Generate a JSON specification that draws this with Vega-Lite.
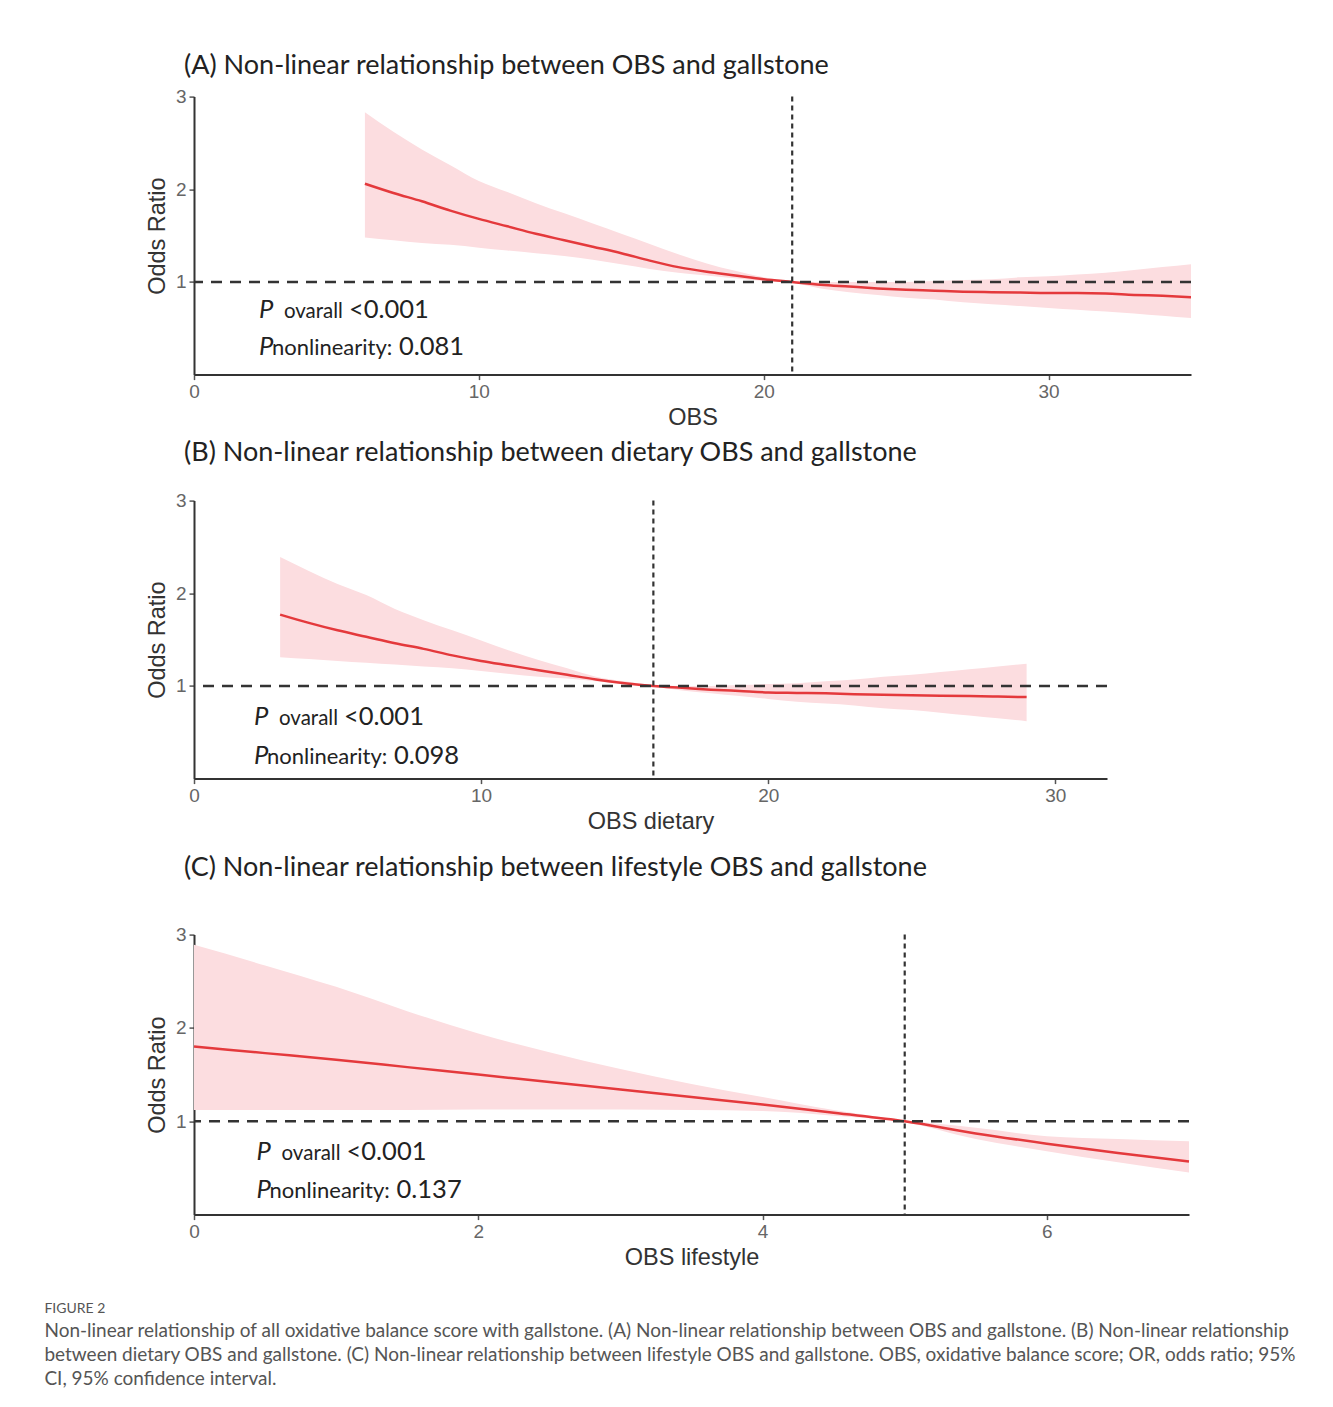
{
  "$schema": "https://vega.github.io/schema/vega-lite/v6.json",
  "background": "white",
  "padding": {"left": 44, "top": 51.6, "right": 5, "bottom": 20},
  "spacing": 9,
  "datasets": {
    "A": [
      {"x": 6, "or": 2.06, "lo": 1.48, "hi": 2.83},
      {"x": 7, "or": 1.96, "lo": 1.45, "hi": 2.62},
      {"x": 8, "or": 1.87, "lo": 1.42, "hi": 2.43},
      {"x": 9, "or": 1.77, "lo": 1.40, "hi": 2.26},
      {"x": 10, "or": 1.68, "lo": 1.37, "hi": 2.09},
      {"x": 11, "or": 1.60, "lo": 1.34, "hi": 1.97},
      {"x": 12, "or": 1.52, "lo": 1.31, "hi": 1.85},
      {"x": 13, "or": 1.45, "lo": 1.28, "hi": 1.74},
      {"x": 14, "or": 1.38, "lo": 1.24, "hi": 1.63},
      {"x": 15, "or": 1.31, "lo": 1.19, "hi": 1.52},
      {"x": 16, "or": 1.23, "lo": 1.14, "hi": 1.41},
      {"x": 17, "or": 1.16, "lo": 1.10, "hi": 1.30},
      {"x": 18, "or": 1.11, "lo": 1.07, "hi": 1.20},
      {"x": 19, "or": 1.07, "lo": 1.04, "hi": 1.12},
      {"x": 20, "or": 1.03, "lo": 1.01, "hi": 1.05},
      {"x": 21, "or": 1.00, "lo": 0.99, "hi": 1.01},
      {"x": 22, "or": 0.97, "lo": 0.93, "hi": 1.00},
      {"x": 23, "or": 0.95, "lo": 0.89, "hi": 1.00},
      {"x": 24, "or": 0.93, "lo": 0.86, "hi": 1.00},
      {"x": 25, "or": 0.915, "lo": 0.83, "hi": 1.00},
      {"x": 26, "or": 0.905, "lo": 0.81, "hi": 1.01},
      {"x": 27, "or": 0.895, "lo": 0.78, "hi": 1.02},
      {"x": 28, "or": 0.89, "lo": 0.76, "hi": 1.03},
      {"x": 29, "or": 0.885, "lo": 0.74, "hi": 1.05},
      {"x": 30, "or": 0.88, "lo": 0.72, "hi": 1.06},
      {"x": 31, "or": 0.88, "lo": 0.70, "hi": 1.08},
      {"x": 32, "or": 0.875, "lo": 0.68, "hi": 1.10},
      {"x": 33, "or": 0.86, "lo": 0.66, "hi": 1.13},
      {"x": 34, "or": 0.85, "lo": 0.635, "hi": 1.16},
      {"x": 35, "or": 0.835, "lo": 0.61, "hi": 1.19}
    ],
    "B": [
      {"x": 3, "or": 1.77, "lo": 1.31, "hi": 2.39},
      {"x": 4, "or": 1.68, "lo": 1.29, "hi": 2.24},
      {"x": 5, "or": 1.60, "lo": 1.27, "hi": 2.10},
      {"x": 6, "or": 1.53, "lo": 1.25, "hi": 1.98},
      {"x": 7, "or": 1.46, "lo": 1.23, "hi": 1.83},
      {"x": 8, "or": 1.40, "lo": 1.21, "hi": 1.71},
      {"x": 9, "or": 1.33, "lo": 1.19, "hi": 1.60},
      {"x": 10, "or": 1.27, "lo": 1.16, "hi": 1.49},
      {"x": 11, "or": 1.22, "lo": 1.13, "hi": 1.38},
      {"x": 12, "or": 1.17, "lo": 1.10, "hi": 1.28},
      {"x": 13, "or": 1.12, "lo": 1.08, "hi": 1.19},
      {"x": 14, "or": 1.07, "lo": 1.05, "hi": 1.10},
      {"x": 15, "or": 1.03, "lo": 1.02, "hi": 1.05},
      {"x": 16, "or": 1.00, "lo": 0.99, "hi": 1.01},
      {"x": 17, "or": 0.98, "lo": 0.95, "hi": 1.00},
      {"x": 18, "or": 0.96, "lo": 0.92, "hi": 1.00},
      {"x": 19, "or": 0.945, "lo": 0.89, "hi": 1.01},
      {"x": 20, "or": 0.93, "lo": 0.86, "hi": 1.02},
      {"x": 21, "or": 0.925, "lo": 0.83, "hi": 1.03},
      {"x": 22, "or": 0.92, "lo": 0.81, "hi": 1.05},
      {"x": 23, "or": 0.91, "lo": 0.79, "hi": 1.07},
      {"x": 24, "or": 0.905, "lo": 0.76, "hi": 1.10},
      {"x": 25, "or": 0.90, "lo": 0.74, "hi": 1.12},
      {"x": 26, "or": 0.895, "lo": 0.71, "hi": 1.15},
      {"x": 27, "or": 0.89, "lo": 0.68, "hi": 1.18},
      {"x": 28, "or": 0.885, "lo": 0.65, "hi": 1.21},
      {"x": 29, "or": 0.88, "lo": 0.62, "hi": 1.24}
    ],
    "C": [
      {"x": 0, "or": 1.80, "lo": 1.12, "hi": 2.89},
      {"x": 0.5, "or": 1.73, "lo": 1.12, "hi": 2.67},
      {"x": 1, "or": 1.66, "lo": 1.12, "hi": 2.44},
      {"x": 1.5, "or": 1.58, "lo": 1.12, "hi": 2.18},
      {"x": 2, "or": 1.50, "lo": 1.125, "hi": 1.94},
      {"x": 2.5, "or": 1.42, "lo": 1.125, "hi": 1.74},
      {"x": 3, "or": 1.34, "lo": 1.125, "hi": 1.56},
      {"x": 3.5, "or": 1.26, "lo": 1.12, "hi": 1.40},
      {"x": 4, "or": 1.18, "lo": 1.11, "hi": 1.26},
      {"x": 4.5, "or": 1.09, "lo": 1.06, "hi": 1.12},
      {"x": 5, "or": 1.00, "lo": 0.99, "hi": 1.01},
      {"x": 5.5, "or": 0.87, "lo": 0.81, "hi": 0.93},
      {"x": 6, "or": 0.76, "lo": 0.68, "hi": 0.84},
      {"x": 6.5, "or": 0.66, "lo": 0.56, "hi": 0.81},
      {"x": 7, "or": 0.57, "lo": 0.45, "hi": 0.785}
    ]
  },
  "title": {
    "text": "FIGURE 2",
    "subtitle": [
      "Non-linear relationship of all oxidative balance score with gallstone. (A) Non-linear relationship between OBS and gallstone. (B) Non-linear relationship",
      "between dietary OBS and gallstone. (C) Non-linear relationship between lifestyle OBS and gallstone. OBS, oxidative balance score; OR, odds ratio; 95%",
      "CI, 95% confidence interval."
    ],
    "orient": "bottom",
    "anchor": "start",
    "frame": "bounds",
    "offset": 32.5,
    "dx": -101,
    "font": "Lato",
    "fontSize": 14,
    "fontWeight": "normal",
    "color": "#555555",
    "subtitleFont": "Lato",
    "subtitleFontSize": 19,
    "subtitleColor": "#555555",
    "subtitleLineHeight": 24,
    "subtitlePadding": 6
  },
  "vconcat": [
    {
      "title": {"text": "(A) Non-linear relationship between OBS and gallstone", "offset": 7.4},
      "width": 997,
      "height": 278,
      "data": {"name": "A"},
      "layer": [
        {
          "mark": {"type": "area", "color": "#fcdde0", "interpolate": "monotone"},
          "encoding": {
            "x": {"field": "x", "type": "quantitative", "scale": {"domain": [0, 35], "nice": false, "zero": false}, "axis": {"title": "OBS", "values": [0, 10, 20, 30], "format": "d"}},
            "y": {"field": "lo", "type": "quantitative", "scale": {"domain": [0, 3], "nice": false}, "axis": {"title": "Odds Ratio", "values": [1, 2, 3], "format": "d"}},
            "y2": {"field": "hi"}
          }
        },
        {
          "mark": {"type": "line", "color": "#e4393c", "strokeWidth": 2.5, "interpolate": "monotone"},
          "encoding": {
            "x": {"field": "x", "type": "quantitative"},
            "y": {"field": "or", "type": "quantitative"}
          }
        },
        {
          "data": {"values": [{}]},
          "mark": {"type": "rule", "color": "#333333", "strokeWidth": 2.5, "strokeDash": [11, 8]},
          "encoding": {"y": {"datum": 1}}
        },
        {
          "data": {"values": [{}]},
          "mark": {"type": "rule", "color": "#333333", "strokeWidth": 2.2, "strokeDash": [5, 4]},
          "encoding": {"x": {"datum": 21}}
        },
        {
          "data": {"values": [{}]},
          "mark": {"type": "text", "text": "P", "font": "Lato", "fontStyle": "italic", "fontSize": 25.5, "color": "#222222", "align": "left", "baseline": "alphabetic"},
          "encoding": {"x": {"datum": 2.28}, "y": {"datum": 0.613}}
        },
        {
          "data": {"values": [{}]},
          "mark": {"type": "text", "text": "ovarall", "font": "Lato", "fontSize": 20.5, "color": "#222222", "align": "left", "baseline": "alphabetic", "dx": 25},
          "encoding": {"x": {"datum": 2.28}, "y": {"datum": 0.613}}
        },
        {
          "data": {"values": [{}]},
          "mark": {"type": "text", "text": "<0.001", "font": "Lato", "fontSize": 25.5, "color": "#222222", "align": "left", "baseline": "alphabetic", "dx": 90},
          "encoding": {"x": {"datum": 2.28}, "y": {"datum": 0.613}}
        },
        {
          "data": {"values": [{}]},
          "mark": {"type": "text", "text": "P", "font": "Lato", "fontStyle": "italic", "fontSize": 25.5, "color": "#222222", "align": "left", "baseline": "alphabetic"},
          "encoding": {"x": {"datum": 2.28}, "y": {"datum": 0.215}}
        },
        {
          "data": {"values": [{}]},
          "mark": {"type": "text", "text": "nonlinearity:", "font": "Lato", "fontSize": 22, "color": "#222222", "align": "left", "baseline": "alphabetic", "dx": 13},
          "encoding": {"x": {"datum": 2.28}, "y": {"datum": 0.215}}
        },
        {
          "data": {"values": [{}]},
          "mark": {"type": "text", "text": "0.081", "font": "Lato", "fontSize": 25.5, "color": "#222222", "align": "left", "baseline": "alphabetic", "dx": 140},
          "encoding": {"x": {"datum": 2.28}, "y": {"datum": 0.215}}
        }
      ]
    },
    {
      "title": {"text": "(B) Non-linear relationship between dietary OBS and gallstone", "offset": 24.5},
      "width": 913,
      "height": 278,
      "data": {"name": "B"},
      "layer": [
        {
          "mark": {"type": "area", "color": "#fcdde0", "interpolate": "monotone"},
          "encoding": {
            "x": {"field": "x", "type": "quantitative", "scale": {"domain": [0, 31.8], "nice": false, "zero": false}, "axis": {"title": "OBS dietary", "values": [0, 10, 20, 30], "format": "d"}},
            "y": {"field": "lo", "type": "quantitative", "scale": {"domain": [0, 3], "nice": false}, "axis": {"title": "Odds Ratio", "values": [1, 2, 3], "format": "d"}},
            "y2": {"field": "hi"}
          }
        },
        {
          "mark": {"type": "line", "color": "#e4393c", "strokeWidth": 2.5, "interpolate": "monotone"},
          "encoding": {
            "x": {"field": "x", "type": "quantitative"},
            "y": {"field": "or", "type": "quantitative"}
          }
        },
        {
          "data": {"values": [{}]},
          "mark": {"type": "rule", "color": "#333333", "strokeWidth": 2.5, "strokeDash": [11, 8]},
          "encoding": {"y": {"datum": 1}}
        },
        {
          "data": {"values": [{}]},
          "mark": {"type": "rule", "color": "#333333", "strokeWidth": 2.2, "strokeDash": [5, 4]},
          "encoding": {"x": {"datum": 16}}
        },
        {
          "data": {"values": [{}]},
          "mark": {"type": "text", "text": "P", "font": "Lato", "fontStyle": "italic", "fontSize": 25.5, "color": "#222222", "align": "left", "baseline": "alphabetic"},
          "encoding": {"x": {"datum": 2.09}, "y": {"datum": 0.58}}
        },
        {
          "data": {"values": [{}]},
          "mark": {"type": "text", "text": "ovarall", "font": "Lato", "fontSize": 20.5, "color": "#222222", "align": "left", "baseline": "alphabetic", "dx": 25},
          "encoding": {"x": {"datum": 2.09}, "y": {"datum": 0.58}}
        },
        {
          "data": {"values": [{}]},
          "mark": {"type": "text", "text": "<0.001", "font": "Lato", "fontSize": 25.5, "color": "#222222", "align": "left", "baseline": "alphabetic", "dx": 90},
          "encoding": {"x": {"datum": 2.09}, "y": {"datum": 0.58}}
        },
        {
          "data": {"values": [{}]},
          "mark": {"type": "text", "text": "P", "font": "Lato", "fontStyle": "italic", "fontSize": 25.5, "color": "#222222", "align": "left", "baseline": "alphabetic"},
          "encoding": {"x": {"datum": 2.09}, "y": {"datum": 0.16}}
        },
        {
          "data": {"values": [{}]},
          "mark": {"type": "text", "text": "nonlinearity:", "font": "Lato", "fontSize": 22, "color": "#222222", "align": "left", "baseline": "alphabetic", "dx": 13},
          "encoding": {"x": {"datum": 2.09}, "y": {"datum": 0.16}}
        },
        {
          "data": {"values": [{}]},
          "mark": {"type": "text", "text": "0.098", "font": "Lato", "fontSize": 25.5, "color": "#222222", "align": "left", "baseline": "alphabetic", "dx": 140},
          "encoding": {"x": {"datum": 2.09}, "y": {"datum": 0.16}}
        }
      ]
    },
    {
      "title": {"text": ["", "(C) Non-linear relationship between lifestyle OBS and gallstone"], "lineHeight": 11, "offset": 43.5},
      "width": 995,
      "height": 280,
      "data": {"name": "C"},
      "layer": [
        {
          "mark": {"type": "area", "color": "#fcdde0", "interpolate": "monotone"},
          "encoding": {
            "x": {"field": "x", "type": "quantitative", "scale": {"domain": [0, 7], "nice": false, "zero": false}, "axis": {"title": "OBS lifestyle", "values": [0, 2, 4, 6], "format": "d"}},
            "y": {"field": "lo", "type": "quantitative", "scale": {"domain": [0, 3], "nice": false}, "axis": {"title": "Odds Ratio", "values": [1, 2, 3], "format": "d"}},
            "y2": {"field": "hi"}
          }
        },
        {
          "mark": {"type": "line", "color": "#e4393c", "strokeWidth": 2.5, "interpolate": "monotone"},
          "encoding": {
            "x": {"field": "x", "type": "quantitative"},
            "y": {"field": "or", "type": "quantitative"}
          }
        },
        {
          "data": {"values": [{}]},
          "mark": {"type": "rule", "color": "#333333", "strokeWidth": 2.5, "strokeDash": [11, 8]},
          "encoding": {"y": {"datum": 1}}
        },
        {
          "data": {"values": [{}]},
          "mark": {"type": "rule", "color": "#333333", "strokeWidth": 2.2, "strokeDash": [5, 4]},
          "encoding": {"x": {"datum": 5}}
        },
        {
          "data": {"values": [{}]},
          "mark": {"type": "text", "text": "P", "font": "Lato", "fontStyle": "italic", "fontSize": 25.5, "color": "#222222", "align": "left", "baseline": "alphabetic"},
          "encoding": {"x": {"datum": 0.44}, "y": {"datum": 0.59}}
        },
        {
          "data": {"values": [{}]},
          "mark": {"type": "text", "text": "ovarall", "font": "Lato", "fontSize": 20.5, "color": "#222222", "align": "left", "baseline": "alphabetic", "dx": 25},
          "encoding": {"x": {"datum": 0.44}, "y": {"datum": 0.59}}
        },
        {
          "data": {"values": [{}]},
          "mark": {"type": "text", "text": "<0.001", "font": "Lato", "fontSize": 25.5, "color": "#222222", "align": "left", "baseline": "alphabetic", "dx": 90},
          "encoding": {"x": {"datum": 0.44}, "y": {"datum": 0.59}}
        },
        {
          "data": {"values": [{}]},
          "mark": {"type": "text", "text": "P", "font": "Lato", "fontStyle": "italic", "fontSize": 25.5, "color": "#222222", "align": "left", "baseline": "alphabetic"},
          "encoding": {"x": {"datum": 0.44}, "y": {"datum": 0.18}}
        },
        {
          "data": {"values": [{}]},
          "mark": {"type": "text", "text": "nonlinearity:", "font": "Lato", "fontSize": 22, "color": "#222222", "align": "left", "baseline": "alphabetic", "dx": 13},
          "encoding": {"x": {"datum": 0.44}, "y": {"datum": 0.18}}
        },
        {
          "data": {"values": [{}]},
          "mark": {"type": "text", "text": "0.137", "font": "Lato", "fontSize": 25.5, "color": "#222222", "align": "left", "baseline": "alphabetic", "dx": 140},
          "encoding": {"x": {"datum": 0.44}, "y": {"datum": 0.18}}
        }
      ]
    }
  ],
  "config": {
    "view": {"stroke": null},
    "title": {"anchor": "start", "frame": "group", "dx": -10, "font": "Lato", "fontSize": 27, "fontWeight": "normal", "color": "#222222"},
    "axis": {
      "grid": false,
      "domainColor": "#333333",
      "domainWidth": 2,
      "tickColor": "#555555",
      "tickWidth": 1.5,
      "tickSize": 5,
      "labelColor": "#666666",
      "labelFont": "Liberation Sans",
      "labelFontSize": 19,
      "labelPadding": 3,
      "labelFlush": false,
      "titleFont": "Liberation Sans",
      "titleFontSize": 23.5,
      "titleFontWeight": "normal",
      "titleColor": "#333333"
    },
    "axisX": {"titlePadding": 4},
    "axisY": {"titlePadding": 6}
  }
}
